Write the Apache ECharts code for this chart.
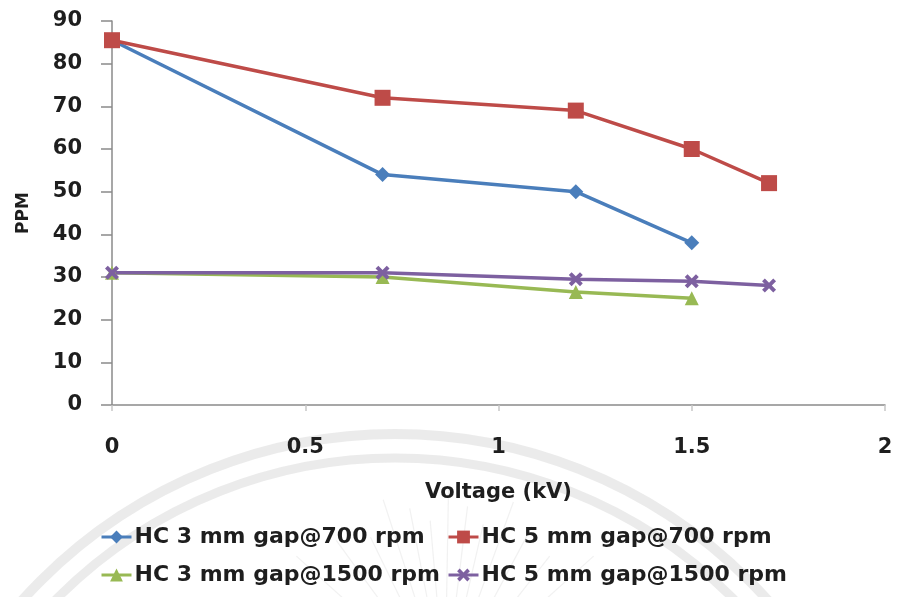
<!DOCTYPE html>
<html>
<head>
<meta charset="utf-8">
<script src="https://cdn.jsdelivr.net/npm/echarts@6/dist/echarts.min.js"></script>
<style>
  html, body { margin: 0; padding: 0; background: #ffffff; }
  #chart { width: 897px; height: 597px; }
</style>
</head>
<body>
<div id="chart"></div>
<script>
// Voltage values (kV) for each run
const voltage3mm = [0, 0.7, 1.2, 1.5];
const voltage5mm = [0, 0.7, 1.2, 1.5, 1.7];

// HC concentration (PPM)
const hc3mm700 = [85.5, 54, 50, 38];
const hc5mm700 = [85.5, 72, 69, 60, 52];
const hc3mm1500 = [31, 30, 26.5, 25];
const hc5mm1500 = [31, 31, 29.5, 29, 28];

const seriesNames = [
  'HC 3 mm gap@700 rpm',
  'HC 5 mm gap@700 rpm',
  'HC 3 mm gap@1500 rpm',
  'HC 5 mm gap@1500 rpm'
];

const xTicks = { min: 0, max: 2, interval: 0.5 };
const yTicks = { min: 0, max: 90, interval: 10 };

const FONT = '"DejaVu Sans", sans-serif';
const TEXT = '#1e1e1e';
const AXIS = '#8a8a8a';

const crossPath = 'path://M2,0 L5,3 L8,0 L10,2 L7,5 L10,8 L8,10 L5,7 L2,10 L0,8 L3,5 L0,2 Z';

function pairs(xs, ys) { return xs.map((x, i) => [x, ys[i]]); }

function lineSeries(name, xs, ys, color, symbol, size) {
  return {
    name: name,
    type: 'line',
    data: pairs(xs, ys),
    symbol: symbol,
    symbolSize: size,
    showAllSymbol: true,
    lineStyle: { color: color, width: 3.5 },
    itemStyle: { color: color, borderWidth: 0 },
    emphasis: { disabled: true },
    z: 3
  };
}

function legendAt(name, left, top) {
  return {
    data: [name],
    left: left,
    top: top,
    orient: 'horizontal',
    itemWidth: 30,
    itemHeight: 16,
    itemGap: 0,
    padding: 0,
    selectedMode: false,
    lineStyle: { width: 3 },
    textStyle: { fontFamily: FONT, fontWeight: 'bold', fontSize: 22, color: TEXT, padding: [0, 0, 0, -2] }
  };
}

// faint background emblem: two concentric rings and a fan of thin rays
const emblem = [
  { type: 'circle', shape: { cx: 395, cy: 935, r: 501 }, style: { fill: 'none', stroke: 'rgba(190,190,190,0.3)', lineWidth: 10 } },
  { type: 'circle', shape: { cx: 395, cy: 935, r: 477 }, style: { fill: 'none', stroke: 'rgba(190,190,190,0.3)', lineWidth: 9 } }
];
[-48, -36, -26, -18, -11, -5, 1, 7, 13, 20, 28, 38, 48].forEach(function (deg, i) {
  const a = deg * Math.PI / 180;
  const cx = 445, cy = 690, r0 = 70, r1 = 200 - (i % 3) * 15;
  emblem.push({
    type: 'line',
    shape: { x1: cx + r0 * Math.sin(a), y1: cy - r0 * Math.cos(a), x2: cx + r1 * Math.sin(a), y2: cy - r1 * Math.cos(a) },
    style: { stroke: 'rgba(190,190,190,0.22)', lineWidth: 1.2 }
  });
});

const chart = echarts.init(document.getElementById('chart'), null, { renderer: 'canvas' });

chart.setOption({
  backgroundColor: '#ffffff',
  animation: false,
  graphic: { elements: emblem.map(e => Object.assign({ silent: true, z: -10 }, e)) },
  grid: { left: 112, right: 12, top: 21, bottom: 192, containLabel: false },
  xAxis: {
    type: 'value',
    min: xTicks.min, max: xTicks.max, interval: xTicks.interval,
    name: 'Voltage (kV)',
    nameLocation: 'middle',
    nameGap: 77,
    nameTextStyle: { fontFamily: FONT, fontWeight: 'bold', fontSize: 21, color: TEXT },
    axisLine: { onZero: false, lineStyle: { color: AXIS, width: 1.5 } },
    axisTick: { show: true, length: 6, lineStyle: { color: '#c8c8c8', width: 1.5 } },
    axisLabel: { margin: 32, fontFamily: FONT, fontWeight: 'bold', fontSize: 21, color: TEXT },
    splitLine: { show: false }
  },
  yAxis: {
    type: 'value',
    min: yTicks.min, max: yTicks.max, interval: yTicks.interval,
    name: 'PPM',
    nameLocation: 'middle',
    nameGap: 80,
    nameTextStyle: { fontFamily: FONT, fontWeight: 'bold', fontSize: 17, color: TEXT },
    axisLine: { show: true, lineStyle: { color: AXIS, width: 1.5 } },
    axisTick: { show: true, length: 11, lineStyle: { color: AXIS, width: 1.5 } },
    axisLabel: { margin: 30, fontFamily: FONT, fontWeight: 'bold', fontSize: 21, color: TEXT },
    splitLine: { show: false }
  },
  legend: [
    legendAt(seriesNames[0], 100, 526),
    legendAt(seriesNames[1], 447, 526),
    legendAt(seriesNames[2], 100, 564),
    legendAt(seriesNames[3], 447, 564)
  ],
  series: [
    lineSeries(seriesNames[0], voltage3mm, hc3mm700, '#4a7ebb', 'diamond', 15),
    lineSeries(seriesNames[1], voltage5mm, hc5mm700, '#be4b48', 'rect', 16),
    lineSeries(seriesNames[2], voltage3mm, hc3mm1500, '#98b954', 'triangle', 14),
    lineSeries(seriesNames[3], voltage5mm, hc5mm1500, '#7d60a0', crossPath, 14)
  ]
});
</script>
</body>
</html>
